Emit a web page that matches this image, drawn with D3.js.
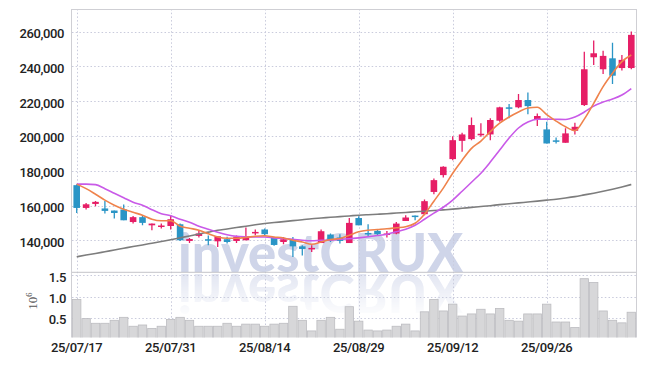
<!DOCTYPE html>
<html><head><meta charset="utf-8">
<script src="https://cdn.jsdelivr.net/npm/d3@7"></script>
<style>body{margin:0;background:#fff}svg{display:block}</style>
</head><body><svg id="c" width="645" height="366"></svg>
<script>
const dates = ["25/07/17","25/07/18","25/07/21","25/07/22","25/07/23","25/07/24","25/07/25","25/07/28","25/07/29","25/07/30","25/07/31",
"25/08/01","25/08/04","25/08/05","25/08/06","25/08/07","25/08/08","25/08/11","25/08/12","25/08/13","25/08/14",
"25/08/18","25/08/19","25/08/20","25/08/21","25/08/22","25/08/25","25/08/26","25/08/27","25/08/28","25/08/29",
"25/09/01","25/09/02","25/09/03","25/09/04","25/09/05","25/09/08","25/09/09","25/09/10","25/09/11","25/09/12",
"25/09/15","25/09/16","25/09/17","25/09/18","25/09/19","25/09/22","25/09/23","25/09/24","25/09/25","25/09/26",
"25/09/29","25/09/30","25/10/01","25/10/02","25/10/10","25/10/13","25/10/14","25/10/15","25/10/16"];
const open  = [171700,158600,160900,158300,157100,157700,150500,153300,148600,147700,148200,149200,139600,142500,140600,139400,140600,139600,140000,144400,146200,141300,139000,140600,136500,135000,138400,143300,141600,138400,152800,144200,145400,143300,143900,151100,154200,155000,167800,177500,186700,197200,198200,200400,200900,208800,216500,216500,220700,209200,203800,197500,196100,203000,217800,245300,238400,244700,239100,239100];
const high  = [172300,161500,162600,162600,157100,160600,154000,154400,149600,149600,154400,149600,141300,145800,142700,142300,142000,142700,147300,146200,146700,141900,141900,141900,137100,137100,146200,143900,143500,152800,153800,149200,146100,145400,150500,154400,154200,163500,175600,182600,199900,201800,210700,207300,210200,216900,218400,224200,225100,213000,208200,199200,204400,207600,248500,254900,249100,253700,246600,260100];
const low   = [155700,157700,159600,155400,152500,151500,149600,148600,145800,146700,146200,139600,138400,141600,137100,136100,138100,138400,140000,142900,142900,136900,137700,130400,131300,133200,138400,139000,138100,138400,148600,142300,142900,141600,143500,151100,151500,154400,166500,176100,186100,190900,197600,199500,197600,208200,210200,215900,212500,205700,195700,195700,196100,200900,217200,240900,235700,229900,237700,238400];
const close = [158600,160700,162100,156900,155700,151500,153300,150000,149600,148500,152100,140000,140700,143900,140000,142300,139000,142100,141600,144800,143500,137300,140600,136500,135000,135600,145200,140000,139600,150000,148600,143500,143500,143900,149600,153100,153400,162500,174600,182300,197600,200900,206300,201300,209200,216500,215700,220700,217200,211500,195700,197100,201500,205300,238400,247600,246100,234700,243800,258200];
const volume = [0.93,0.48,0.37,0.37,0.44,0.51,0.30,0.33,0.25,0.30,0.46,0.51,0.44,0.30,0.30,0.30,0.37,0.30,0.35,0.35,0.30,0.35,0.37,0.77,0.44,0.19,0.44,0.51,0.23,0.76,0.42,0.21,0.19,0.21,0.30,0.35,0.19,0.64,0.93,0.66,0.82,0.54,0.59,0.70,0.59,0.72,0.44,0.42,0.59,0.59,0.82,0.40,0.40,0.27,1.42,1.33,0.66,0.44,0.38,0.63];
const ma5  = [172300,169700,166500,163100,160200,157900,156100,154400,152100,151200,151200,148100,146900,145800,143700,141900,141200,141200,141600,142300,142600,141900,141300,140000,139000,137700,139000,140400,141000,142900,144900,145800,146200,146600,147200,147800,149800,155000,162500,170000,178600,186100,192900,197100,202500,207400,210900,213800,216100,216500,212300,208600,205300,203100,209700,218800,228400,236100,242800,246600];
const ma10 = [172300,172300,172000,169700,167100,164500,161900,160200,157600,155300,154100,152100,150400,148100,146300,144600,143200,142300,142000,141900,141900,141400,141000,140600,140000,139700,140000,140100,140600,140900,141400,142000,142700,143500,144900,146300,148600,152100,155600,159000,163100,168200,173400,178600,185000,191900,198800,204600,208000,209600,209700,209600,209500,210900,213800,217200,219500,221300,223600,227300];
const ma60 = [130500,131500,132400,133400,134400,135400,136400,137300,138300,139300,140300,141400,142500,143600,144700,145800,146500,147300,148100,148900,149600,150200,150700,151300,151800,152400,152800,153200,153600,154000,154400,154700,155000,155300,155700,156000,156400,156700,157100,157500,157900,158400,158900,159400,159900,160500,161000,161500,162000,162500,163100,163600,164300,165100,166100,167100,168200,169400,170700,172100];
const priceTicks = [140000,160000,180000,200000,220000,240000,260000];
const volTicks = [0.5,1.0,1.5];
const dateTicks = ["25/07/17","25/07/31","25/08/14","25/08/29","25/09/12","25/09/26"];

const svg = d3.select('#c');
const L=72,R=636,T=9,SEP=272.3,VB=337.5;
const UP='#e61e66', DOWN='#2a95c6';
const x = d3.scaleBand().domain(dates).range([L,R]).padding(0);
const cx = d => x(d)+x.bandwidth()/2;
const y = d3.scaleLinear().domain([121565,273077]).range([SEP,T]);
const yv = d3.scaleLinear().domain([0,1.57]).range([339,SEP]);

svg.append('rect').attr('width',645).attr('height',366).attr('fill','#fff');
const defs = svg.append('defs');
defs.append('clipPath').attr('id','cm').append('rect').attr('x',L).attr('y',T).attr('width',R-L).attr('height',SEP-T);
defs.append('clipPath').attr('id','cv').append('rect').attr('x',L).attr('y',SEP).attr('width',R-L).attr('height',VB-SEP);
const g = defs.append('linearGradient').attr('id','fade').attr('x1',0).attr('y1',0).attr('x2',0).attr('y2',1);
g.append('stop').attr('offset','0').attr('stop-color','#fff').attr('stop-opacity',0.6);
g.append('stop').attr('offset','1').attr('stop-color','#fff').attr('stop-opacity',0.05);
const MIR = SEP+1.5;
defs.append('mask').attr('id','mk').attr('maskUnits','userSpaceOnUse').attr('x',0).attr('y',MIR).attr('width',645).attr('height',45)
  .append('rect').attr('x',0).attr('y',MIR).attr('width',645).attr('height',41).attr('fill','url(#fade)');

// watermark
const wm = svg.append('g');
wm.append('text').attr('x',178).attr('y',SEP-0.5).attr('textLength',285).attr('lengthAdjust','spacingAndGlyphs')
  .attr('font-family','Lato').attr('font-weight',900).attr('font-size',54).attr('fill','#cfd5e9').text('investCRUX');
wm.append('g').attr('mask','url(#mk)').append('text').attr('x',178).attr('y',MIR)
  .attr('transform',`translate(0,${2*MIR}) scale(1,-1)`).attr('textLength',285).attr('lengthAdjust','spacingAndGlyphs')
  .attr('font-family','Lato').attr('font-weight',900).attr('font-size',54).attr('fill','#cfd5e9').text('investCRUX');

// grid
const grid = svg.append('g').attr('stroke','#c9cbdc').attr('stroke-width',1).attr('stroke-dasharray','1.5,2.2');
grid.selectAll('.hp').data(priceTicks).join('line').attr('x1',L).attr('x2',R).attr('y1',d=>Math.round(y(d))+0.5).attr('y2',d=>Math.round(y(d))+0.5);
grid.selectAll('.hv').data(volTicks).join('line').attr('x1',L).attr('x2',R).attr('y1',d=>Math.round(yv(d))+0.5).attr('y2',d=>Math.round(yv(d))+0.5);
grid.selectAll('.vd').data(dateTicks).join('line').attr('x1',d=>Math.round(cx(d))+0.5).attr('x2',d=>Math.round(cx(d))+0.5).attr('y1',T).attr('y2',VB);

// frame
const fr = svg.append('g').attr('stroke','#cfcfd4').attr('stroke-width',1).attr('fill','none');
fr.append('line').attr('x1',L-0.5).attr('x2',L-0.5).attr('y1',T).attr('y2',VB);
fr.append('line').attr('x1',R+0.5).attr('x2',R+0.5).attr('y1',T).attr('y2',VB);
fr.append('line').attr('x1',L).attr('x2',R).attr('y1',T+0.5).attr('y2',T+0.5);
fr.append('line').attr('x1',L).attr('x2',R).attr('y1',SEP).attr('y2',SEP).attr('stroke','#c4c4c8');

// volume
const vg = svg.append('g').attr('clip-path','url(#cv)');
vg.selectAll('rect').data(dates).join('rect')
  .attr('x',d=>x(d)+0.5).attr('width',x.bandwidth()-1)
  .attr('y',(d,i)=>yv(volume[i])).attr('height',(d,i)=>yv(0)-yv(volume[i]))
  .attr('fill','#d7d7d9').attr('stroke','#bcbcc0').attr('stroke-width',0.8);

// candles
const mg = svg.append('g').attr('clip-path','url(#cm)');
const bw = x.bandwidth()*0.7;
const cg = mg.append('g');
dates.forEach((d,i)=>{
  const col = close[i]>=open[i]?UP:DOWN;
  cg.append('line').attr('x1',cx(d)).attr('x2',cx(d)).attr('y1',y(high[i])).attr('y2',y(low[i])).attr('stroke',col).attr('stroke-width',1.3);
  const top = y(Math.max(open[i],close[i])), bot = y(Math.min(open[i],close[i]));
  cg.append('rect').attr('x',cx(d)-bw/2).attr('width',bw).attr('y',top).attr('height',Math.max(1.5,bot-top)).attr('fill',col);
});

// moving averages
const line = arr => d3.line().x((v,i)=>cx(dates[i])).y(v=>y(v)).curve(d3.curveMonotoneX)(arr);
mg.append('path').attr('d',line(ma60)).attr('fill','none').attr('stroke','#7d7d7d').attr('stroke-width',1.6);
mg.append('path').attr('d',line(ma10)).attr('fill','none').attr('stroke','#c95ae8').attr('stroke-width',1.6);
mg.append('path').attr('d',line(ma5)).attr('fill','none').attr('stroke','#ef834c').attr('stroke-width',1.6);

// axes
const font = 'Roboto';
const ay = svg.append('g').attr('transform',`translate(${L},0)`).call(d3.axisLeft(y).tickValues(priceTicks).tickFormat(d3.format(',')).tickSize(0).tickPadding(8));
const av = svg.append('g').attr('transform',`translate(${L},0)`).call(d3.axisLeft(yv).tickValues(volTicks).tickFormat(d3.format('.1f')).tickSize(0).tickPadding(6));
const ax = svg.append('g').attr('transform',`translate(0,${VB})`).call(d3.axisBottom(x).tickValues(dateTicks).tickSize(0).tickPadding(5));
[ay,av,ax].forEach(a=>{
  a.select('.domain').remove();
  a.selectAll('text').attr('font-family',font).attr('font-size',13).attr('font-weight',500).attr('fill','#222').attr('letter-spacing',-0.4);
});
ay.selectAll('text').attr('dy','0.45em');
av.selectAll('text').attr('dy','0.45em');

// 10^6 label
const lab = svg.append('text').attr('transform','translate(37,301) rotate(-90)').attr('text-anchor','middle')
  .attr('font-family','Liberation Serif').attr('font-size',13).attr('fill','#555');
lab.append('tspan').text('10');
lab.append('tspan').attr('font-size',8.5).attr('dy',-5).text('6');
</script></body></html>
